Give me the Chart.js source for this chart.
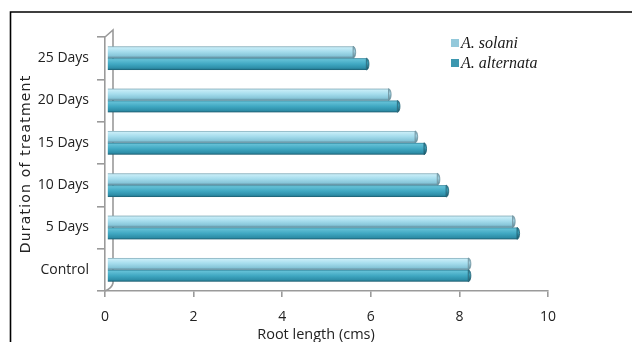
<!DOCTYPE html>
<html>
<head>
<meta charset="utf-8">
<title>Root length by duration of treatment</title>
<script src="https://cdn.jsdelivr.net/npm/chart.js@4.4.1/dist/chart.umd.min.js"></script>
<style>
  html, body { margin: 0; padding: 0; background: #ffffff; }
  #wrap { width: 632px; height: 342px; position: relative; }
</style>
</head>
<body>
<div id="wrap"><canvas id="chart" width="632" height="342"></canvas></div>
<script>
// Treatment durations (bottom to top on the chart)
const categories = ['Control', '5 Days', '10 Days', '15 Days', '20 Days', '25 Days'];
// Root length (cms) per pathogen
const solaniValues = [8.2, 9.2, 7.5, 7.0, 6.4, 5.6];
const alternataValues = [8.2, 9.3, 7.7, 7.2, 6.6, 5.9];
const seriesNames = ['A. solani', 'A. alternata'];
const xTicks = [0, 2, 4, 6, 8, 10];
const yTitle = 'Duration of treatment';
const xTitle = 'Root length (cms)';

const swatch = ['#94c9db', '#3c97af'];
const shades = [
  [[0, '#7ea6b3'], [0.12, '#c6ecf7'], [0.45, '#a6dded'], [0.8, '#87c6d9'], [1, '#5d8898']],
  [[0, '#2f8096'], [0.12, '#63c0d6'], [0.5, '#40a8c2'], [0.85, '#2d8da7'], [1, '#1b5b6e']]
];
const capShades = [
  [[0, '#6f97a5'], [0.4, '#9fcfdf'], [1, '#557f8d']],
  [[0, '#26758a'], [0.4, '#3a9cb5'], [1, '#174f60']]
];

const axisGray = '#9a9a9a';
const fontSans = "'Open Sans', 'DejaVu Sans', sans-serif";

// Outer frame, depth wall, axis titles and the cylinder-shaded bars
const decorPlugin = {
  id: 'decor',
  beforeDraw(chart) {
    const ctx = chart.ctx;
    ctx.save();
    ctx.strokeStyle = '#000000';
    ctx.lineWidth = 1.6;
    ctx.beginPath();
    ctx.moveTo(10.5, 342);
    ctx.lineTo(10.5, 12);
    ctx.lineTo(632, 12);
    ctx.stroke();
    ctx.restore();
  },
  beforeDatasetsDraw(chart) {
    const ctx = chart.ctx;
    const ca = chart.chartArea;
    const d = 8;
    ctx.save();
    ctx.strokeStyle = axisGray;
    ctx.lineWidth = 1.6;
    ctx.beginPath();
    ctx.moveTo(ca.left, ca.top);
    ctx.lineTo(ca.left + d, ca.top - 7);
    ctx.lineTo(ca.left + d, ca.bottom - 8);
    ctx.quadraticCurveTo(ca.left + d - 1, ca.bottom - 3, ca.left, ca.bottom);
    ctx.stroke();
    ctx.restore();

    // rotated y-axis title with wide letter spacing
    ctx.save();
    ctx.translate(26, (ca.top + ca.bottom) / 2);
    ctx.rotate(-Math.PI / 2);
    ctx.font = "14px 'DejaVu Sans', sans-serif";
    ctx.letterSpacing = '1.2px';
    ctx.fillStyle = '#222222';
    ctx.textAlign = 'center';
    ctx.textBaseline = 'middle';
    ctx.fillText(yTitle, 0, 0);
    ctx.restore();

    // x-axis title, centred on the page width
    ctx.save();
    ctx.font = "14.5px " + fontSans;
    ctx.fillStyle = '#222222';
    ctx.textAlign = 'center';
    ctx.textBaseline = 'middle';
    ctx.fillText(xTitle, chart.width / 2, 335);
    ctx.restore();
  },
  afterDatasetsDraw(chart) {
    const ctx = chart.ctx;
    chart.data.datasets.forEach((ds, di) => {
      const meta = chart.getDatasetMeta(di);
      meta.data.forEach((el) => {
        const p = el.getProps(['x', 'y', 'base', 'height'], true);
        const top = p.y - p.height / 2;
        const bot = p.y + p.height / 2;
        const start = p.base + 2;
        const g = ctx.createLinearGradient(0, top, 0, bot);
        shades[di].forEach(s => g.addColorStop(s[0], s[1]));
        ctx.save();
        ctx.fillStyle = g;
        ctx.fillRect(start, top, p.x - start, p.height);
        // rounded end of the cylinder
        const cg = ctx.createLinearGradient(0, top, 0, bot);
        capShades[di].forEach(s => cg.addColorStop(s[0], s[1]));
        ctx.beginPath();
        ctx.ellipse(p.x, p.y, 2.6, p.height / 2, 0, -Math.PI / 2, Math.PI / 2);
        ctx.closePath();
        ctx.fillStyle = cg;
        ctx.fill();
        ctx.strokeStyle = di === 0 ? '#6a8e9a' : '#1f5f72';
        ctx.lineWidth = 0.8;
        ctx.stroke();
        ctx.restore();
      });
    });
  }
};

// Legend in the upper right of the plot
const legendPlugin = {
  id: 'cornerLegend',
  afterDraw(chart) {
    const ctx = chart.ctx;
    ctx.save();
    ctx.font = "italic 16px 'Liberation Serif', 'DejaVu Serif', serif";
    ctx.textBaseline = 'middle';
    ctx.textAlign = 'left';
    seriesNames.forEach((name, i) => {
      const cy = 43 + i * 20;
      ctx.fillStyle = swatch[i];
      ctx.fillRect(451, cy - 4, 8, 8);
      ctx.fillStyle = '#1a1a1a';
      ctx.fillText(name, 461, cy + 1);
    });
    ctx.restore();
  }
};

new Chart(document.getElementById('chart'), {
  type: 'bar',
  data: {
    labels: categories,
    datasets: [
      { label: seriesNames[0], data: solaniValues, backgroundColor: 'rgba(0,0,0,0)', borderWidth: 0 },
      { label: seriesNames[1], data: alternataValues, backgroundColor: 'rgba(0,0,0,0)', borderWidth: 0 }
    ]
  },
  options: {
    indexAxis: 'y',
    responsive: false,
    animation: false,
    layout: { padding: { left: 10, top: 37, right: 84, bottom: 0 } },
    datasets: { bar: { categoryPercentage: 0.56, barPercentage: 1.0 } },
    plugins: { legend: { display: false }, tooltip: { enabled: false } },
    scales: {
      x: {
        type: 'linear',
        min: 0,
        max: 10,
        afterBuildTicks(scale) { scale.ticks = xTicks.map(v => ({ value: v })); },
        afterFit(scale) { scale.height = 51; },
        grid: { drawOnChartArea: false, drawTicks: true, tickLength: 6, color: axisGray, lineWidth: 1.6 },
        border: { display: true, color: axisGray, width: 1.6 },
        ticks: { color: '#222222', font: { family: fontSans, size: 14 }, padding: 12 },
        title: { display: false }
      },
      y: {
        reverse: true,
        afterFit(scale) { scale.width = 95; },
        grid: { drawOnChartArea: false, drawTicks: true, tickLength: 8, color: axisGray, lineWidth: 1.6, offset: true },
        border: { display: true, color: axisGray, width: 1.6 },
        ticks: { color: '#222222', font: { family: fontSans, size: 14 }, padding: 8 },
        title: { display: false }
      }
    }
  },
  plugins: [decorPlugin, legendPlugin]
});
</script>
</body>
</html>
